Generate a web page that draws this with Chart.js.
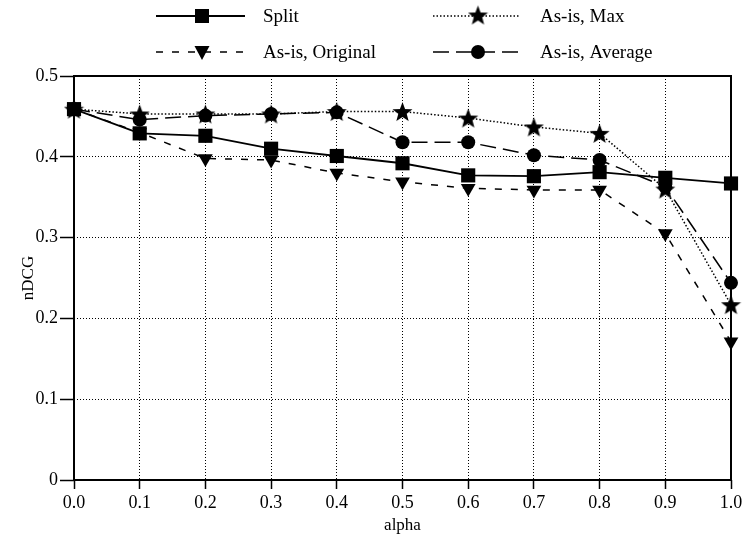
<!DOCTYPE html>
<html>
<head>
    <meta charset="utf-8">
    <title>nDCG vs alpha</title>
    <script src="https://cdn.jsdelivr.net/npm/chart.js@4.4.1/dist/chart.umd.min.js"></script>
    <style>
        html, body { margin: 0; padding: 0; background: #fff; }
        #wrap { width: 742px; height: 536px; }
    </style>
</head>
<body>
<div id="wrap"><canvas id="chart"></canvas></div>
<script>
    var alpha = [0.0, 0.1, 0.2, 0.3, 0.4, 0.5, 0.6, 0.7, 0.8, 0.9, 1.0];
    var split = [0.459, 0.429, 0.426, 0.410, 0.401, 0.392, 0.377, 0.376, 0.381, 0.374, 0.367];
    var asisMax = [0.459, 0.453, 0.453, 0.453, 0.456, 0.456, 0.448, 0.437, 0.429, 0.360, 0.217];
    var asisOriginal = [0.459, 0.430, 0.398, 0.396, 0.380, 0.369, 0.361, 0.359, 0.359, 0.305, 0.171];
    var asisAverage = [0.459, 0.446, 0.451, 0.453, 0.455, 0.418, 0.418, 0.402, 0.396, 0.363, 0.244];

    var serif = "'Liberation Serif', 'DejaVu Serif', serif";

    // filled five point star, used as a point style
    function makeStar(size) {
        var c = document.createElement('canvas');
        c.width = size; c.height = size;
        var g = c.getContext('2d');
        var cx = size / 2, cy = size / 2 + 1, ro = size / 2, ri = ro * 0.42;
        g.beginPath();
        for (var i = 0; i < 10; i++) {
            var r = i % 2 ? ri : ro;
            var a = -Math.PI / 2 + i * Math.PI / 5;
            g.lineTo(cx + r * Math.cos(a), cy + r * Math.sin(a));
        }
        g.closePath();
        g.fillStyle = '#000';
        g.fill();
        return c;
    }
    var star = makeStar(21);

    function toPoints(ys) {
        return ys.map(function (y, i) { return {x: alpha[i], y: y}; });
    }

    var series = [
        {label: 'Split', data: split, dash: [], style: 'rect', radius: 10, rot: 0, width: 1.8},
        {label: 'As-is, Max', data: asisMax, dash: [1.5, 2], style: star, radius: 10, rot: 0, width: 1.5},
        {label: 'As-is, Original', data: asisOriginal, dash: [7, 9], style: 'triangle', radius: 8.5, rot: 180, width: 1.5},
        {label: 'As-is, Average', data: asisAverage, dash: [16, 7], style: 'circle', radius: 7, rot: 0, width: 1.5}
    ];

    var datasets = series.map(function (s) {
        return {
            label: s.label,
            data: toPoints(s.data),
            borderColor: '#000',
            backgroundColor: '#000',
            borderWidth: s.width,
            borderDash: s.dash,
            pointStyle: s.style,
            pointRadius: s.radius,
            pointRotation: s.rot,
            pointBorderWidth: 0,
            pointBackgroundColor: '#000',
            tension: 0,
            fill: false,
            clip: 12
        };
    });

    // plot frame
    var framePlugin = {
        id: 'frame',
        beforeDatasetsDraw: function (chart) {
            var a = chart.chartArea, ctx = chart.ctx;
            ctx.save();
            ctx.strokeStyle = '#000';
            ctx.lineWidth = 2;
            ctx.strokeRect(a.left, a.top, a.right - a.left, a.bottom - a.top);
            ctx.restore();
        }
    };

    // two column legend above the plot
    var legendPlugin = {
        id: 'topLegend',
        afterDraw: function (chart) {
            var ctx = chart.ctx;
            var slots = [
                {x0: 156, x1: 245, mx: 202, y: 16, tx: 263},
                {x0: 433, x1: 520, mx: 478, y: 16, tx: 540},
                {x0: 156, x1: 245, mx: 202, y: 52, tx: 263},
                {x0: 433, x1: 520, mx: 478, y: 52, tx: 540}
            ];
            ctx.save();
            series.forEach(function (s, i) {
                var p = slots[i];
                ctx.strokeStyle = '#000';
                ctx.lineWidth = s.width;
                ctx.setLineDash(s.dash);
                ctx.beginPath();
                ctx.moveTo(p.x0, p.y);
                ctx.lineTo(p.x1, p.y);
                ctx.stroke();
                ctx.setLineDash([]);
                ctx.fillStyle = '#000';
                if (s.style === 'rect') {
                    ctx.fillRect(p.mx - 7, p.y - 7, 14, 14);
                } else if (s.style === 'circle') {
                    ctx.beginPath();
                    ctx.arc(p.mx, p.y, 7, 0, Math.PI * 2);
                    ctx.fill();
                } else if (s.style === 'triangle') {
                    ctx.beginPath();
                    ctx.moveTo(p.mx - 7.5, p.y - 6);
                    ctx.lineTo(p.mx + 7.5, p.y - 6);
                    ctx.lineTo(p.mx, p.y + 8);
                    ctx.closePath();
                    ctx.fill();
                } else {
                    ctx.drawImage(s.style, p.mx - 10.5, p.y - 11.5);
                }
                ctx.font = '19px ' + serif;
                ctx.textBaseline = 'middle';
                ctx.textAlign = 'left';
                ctx.fillText(s.label, p.tx, p.y + 1);
            });
            ctx.restore();
        }
    };

    var grid = {
        color: '#000',
        lineWidth: 1,
        drawTicks: true,
        tickLength: 14,
        tickBorderDash: [],
        tickColor: '#000',
        tickWidth: 1.5
    };

    new Chart(document.getElementById('chart'), {
        type: 'line',
        data: {datasets: datasets},
        plugins: [framePlugin, legendPlugin],
        options: {
            responsive: true,
            maintainAspectRatio: false,
            animation: false,
            layout: {padding: {top: 76, right: 0, left: 0, bottom: 0}},
            plugins: {legend: {display: false}, tooltip: {enabled: false}},
            scales: {
                x: {
                    type: 'linear',
                    min: 0, max: 1,
                    grid: Object.assign({}, grid, {tickLength: 9}),
                    border: {display: false, dash: [1, 2]},
                    ticks: {
                        stepSize: 0.1,
                        color: '#000',
                        font: {family: serif, size: 18},
                        padding: 3,
                        maxRotation: 0,
                        callback: function (v) { return v.toFixed(1); }
                    },
                    title: {display: true, text: 'alpha', color: '#000', font: {family: serif, size: 17}, padding: 0},
                    afterFit: function (s) {
                        s.height = 56;
                        s.paddingRight = 11;
                        s.paddingLeft = 0;
                    }
                },
                y: {
                    min: 0, max: 0.5,
                    grid: grid,
                    border: {display: false, dash: [1, 2]},
                    ticks: {
                        stepSize: 0.1,
                        color: '#000',
                        font: {family: serif, size: 18},
                        padding: 2,
                        callback: function (v) { return v === 0 ? '0' : v.toFixed(1); }
                    },
                    title: {display: true, text: 'nDCG', color: '#000', font: {family: serif, size: 17}, padding: {top: 18, bottom: 0}},
                    afterFit: function (s) { s.width = 74; }
                }
            }
        }
    });
</script>
</body>
</html>
